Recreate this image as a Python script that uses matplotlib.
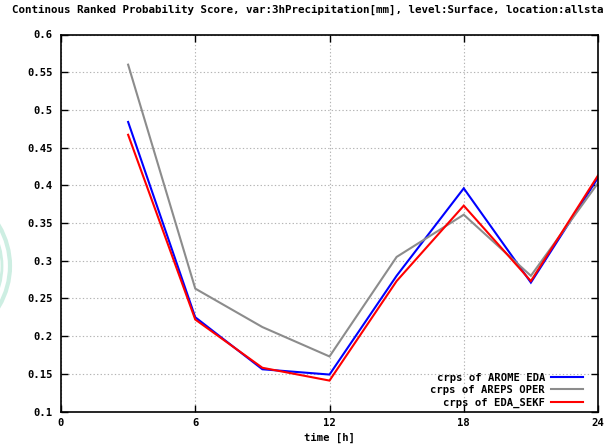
#!/usr/bin/env python3
# -*- coding: utf-8 -*-

import matplotlib

matplotlib.use("Agg")
import matplotlib.pyplot as plt
from matplotlib.patches import Circle

# lead time in hours
hours = [3, 6, 9, 12, 15, 18, 21, 24]

crps_arome_eda = [0.484, 0.225, 0.156, 0.149, 0.280, 0.396, 0.271, 0.410]
crps_areps_oper = [0.560, 0.263, 0.212, 0.173, 0.305, 0.361, 0.280, 0.403]
crps_eda_sekf = [0.467, 0.222, 0.158, 0.141, 0.273, 0.373, 0.273, 0.413]

series_labels = ["crps of AROME EDA", "crps of AREPS OPER", "crps of EDA_SEKF"]
series_colors = ["#0000ff", "#8c8c8c", "#ff0000"]

x_ticks = [0, 6, 12, 18, 24]
y_ticks = [0.1, 0.15, 0.2, 0.25, 0.3, 0.35, 0.4, 0.45, 0.5, 0.55, 0.6]
y_tick_labels = ["0.1", "0.15", "0.2", "0.25", "0.3", "0.35", "0.4", "0.45", "0.5", "0.55", "0.6"]

# the reference image cuts the title off at its right edge
title = ("Continous Ranked Probability Score, var:3hPrecipitation[mm], "
         "level:Surface, location:allsta")

FONT = {"family": "DejaVu Sans Mono", "weight": "bold", "size": 7.6}
TITLE_FONT = dict(FONT, size=7.85)

W, H = 613, 446
fig = plt.figure(figsize=(W / 100, H / 100), dpi=100)
ax = fig.add_axes([61 / W, (H - 411.5) / H, (598 - 61) / W, (411.5 - 34.5) / H])

# faint watermark rings on the left edge
for radius, lw in [(145, 3.0), (137, 2.0)]:
    fig.patches.append(Circle((-135 / W, (H - 266) / H), radius / W, transform=fig.transFigure,
                              fill=False, edgecolor="#cdeee2", linewidth=lw))

for values, label, color in zip([crps_arome_eda, crps_areps_oper, crps_eda_sekf],
                                series_labels, series_colors):
    ax.plot(hours, values, color=color, linewidth=1.5, label=label, solid_joinstyle="miter")

ax.set_xlim(0, 24)
ax.set_ylim(0.1, 0.6)
ax.set_xticks(x_ticks)
ax.set_yticks(y_ticks)
ax.set_xticklabels([str(v) for v in x_ticks], fontdict=FONT)
ax.set_yticklabels(y_tick_labels, fontdict=FONT)
ax.tick_params(direction="in", length=5, width=1, top=True, right=True, pad=6, colors="black")
ax.tick_params(axis="x", pad=5)
ax.grid(True, linestyle=(0, (1.2, 2)), color="#b4b4b4", linewidth=0.8)
for spine in ax.spines.values():
    spine.set_linewidth(1.2)

ax.set_xlabel("time [h]", fontdict=FONT, labelpad=3)

leg = ax.legend(loc="lower right", bbox_to_anchor=((583 - 61) / 537, (411.5 - 408) / 377),
                frameon=False, markerfirst=False, handlelength=3.0, handletextpad=0.6,
                labelspacing=0.25, borderaxespad=0, borderpad=0,
                prop={"family": "DejaVu Sans Mono", "weight": "bold", "size": 7.6})
for text in leg.get_texts():
    text.set_ha("right")

fig.text(12 / W, 1 - 10 / H, title, ha="left", va="center", fontdict=TITLE_FONT)

fig.savefig("out.png", dpi=100)
plt.close(fig)
